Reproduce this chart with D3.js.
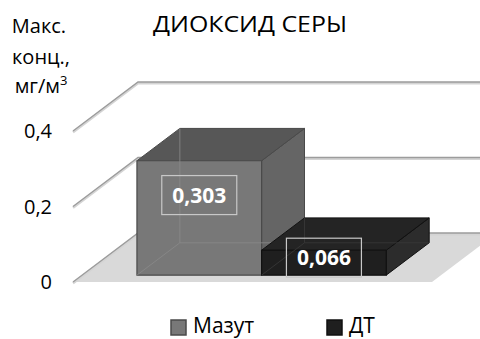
<!DOCTYPE html>
<html>
<head>
<meta charset="utf-8">
<script src="https://cdn.jsdelivr.net/npm/d3@7"></script>
<style>
  body { margin: 0; background: #fff; }
  text { font-family: "Open Sans", "DejaVu Sans", sans-serif; fill: #000; }
</style>
</head>
<body>
<div id="chart"></div>
<script>
// data
let series = ["Мазут", "ДТ"];
let values = [0.303, 0.066];
let labels = ["0,303", "0,066"];
let yTicks = [0, 0.2, 0.4];
let yTickLabels = ["0", "0,2", "0,4"];

let width = 480,
  height = 339;

// oblique 3d: depth 0 = front of floor, 1 = back wall
let depth = { dx: 65, dy: -49 };
let barDepth = [0.14, 0.8];

let faceColors = {
  "Мазут": { front: "#787878", top: "#575757", side: "#656565", edge: "#4a4a4a", hidden: "#8a8a8a" },
  "ДТ": { front: "#1f1f1f", top: "#242424", side: "#2c2c2c", edge: "#111", hidden: "#3a3a3a" },
};

let svg = d3
  .select("#chart")
  .append("svg")
  .attr("width", width)
  .attr("height", height);

let xScale = d3.scaleBand().domain(series).range([73, 432]).paddingOuter(0.44).paddingInner(0);
let yScale = d3.scaleLinear().domain([0, 0.4]).range([282, 131]);

function proj(x, y, d) {
  return [x + depth.dx * d, y + depth.dy * d];
}

function poly(pts) {
  return "M" + pts.map((p) => p.join(",")).join("L") + "Z";
}

// floor
let x0 = xScale.range()[0],
  x1 = xScale.range()[1];
svg
  .append("path")
  .attr("d", poly([proj(x0, yScale(0), 0), proj(x1, yScale(0), 0), proj(x1, yScale(0), 1), proj(x0, yScale(0), 1)]))
  .attr("fill", "#d9d9d9");

// gridlines: side wall diagonal + back wall horizontal
let grid = svg.append("g").attr("class", "grid");
yTicks.forEach((t) => {
  let a = proj(x0, yScale(t), 0),
    b = proj(x0, yScale(t), 1),
    c = proj(x1 + 20, yScale(t), 1);
  let d = "M" + a.join(",") + "L" + b.join(",") + "L" + c.join(",");
  grid.append("path").attr("d", d).attr("transform", "translate(0,1.2)")
    .attr("fill", "none").attr("stroke", "#d4d4d4").attr("stroke-width", 2.5);
  grid.append("path").attr("d", d)
    .attr("fill", "none").attr("stroke", "#9c9c9c").attr("stroke-width", 1.4);
});

// y tick labels
svg
  .selectAll(".ytick")
  .data(yTicks)
  .join("text")
  .attr("class", "ytick")
  .attr("x", 52)
  .attr("y", (d) => yScale(d))
  .attr("dy", "0.35em")
  .attr("text-anchor", "end")
  .style("font-size", "20px")
  .text((d, i) => yTickLabels[i]);

// bars
let bars = svg.append("g").attr("class", "bars");
series.forEach((s, i) => {
  let c = faceColors[s];
  let bx0 = xScale(s),
    bx1 = xScale(s) + xScale.bandwidth(),
    yb = yScale(0),
    yt = yScale(values[i]),
    d0 = barDepth[0],
    d1 = barDepth[1];
  let g = bars.append("g");

  // back face (seen through the front)
  g.append("path")
    .attr("d", poly([proj(bx0, yb, d1), proj(bx1, yb, d1), proj(bx1, yt, d1), proj(bx0, yt, d1)]))
    .attr("fill", c.front);

  // right side
  g.append("path")
    .attr("d", poly([proj(bx1, yb, d0), proj(bx1, yb, d1), proj(bx1, yt, d1), proj(bx1, yt, d0)]))
    .attr("fill", c.side).attr("stroke", c.edge).attr("stroke-width", 1);
  // top
  g.append("path")
    .attr("d", poly([proj(bx0, yt, d0), proj(bx1, yt, d0), proj(bx1, yt, d1), proj(bx0, yt, d1)]))
    .attr("fill", c.top).attr("stroke", c.edge).attr("stroke-width", 1);
  // front
  g.append("path")
    .attr("d", poly([proj(bx0, yb, d0), proj(bx1, yb, d0), proj(bx1, yt, d0), proj(bx0, yt, d0)]))
    .attr("fill", c.front).attr("stroke", c.edge).attr("stroke-width", 1.2);

  // hidden edges seen through
  let hb = proj(bx0, yb, d1);
  let hidden = "M" + proj(bx0, yt, d1).join(",") + "L" + hb.join(",") +
    "L" + proj(bx1, yb, d1).join(",") + "M" + hb.join(",") + "L" + proj(bx0, yb, d0).join(",");
  g.append("path").attr("d", hidden)
    .attr("fill", "none").attr("stroke", c.hidden).attr("stroke-width", 1).attr("opacity", 0.8);
});

// value labels
let lab = svg.append("g").attr("class", "labels");
series.forEach((s, i) => {
  let cx = xScale(s) + xScale.bandwidth() / 2 + depth.dx * barDepth[0];
  let yb = yScale(0) + depth.dy * barDepth[0];
  let cy = yb - 0.7 * (yScale(0) - yScale(values[i]));
  lab.append("rect")
    .attr("x", cx - 37.5).attr("y", cy - 19.5)
    .attr("width", 75).attr("height", 39)
    .attr("fill", "none").attr("stroke", "#c8c8c8").attr("stroke-width", 1.2);
  lab.append("text")
    .attr("x", cx).attr("y", cy)
    .attr("dy", "0.36em")
    .attr("text-anchor", "middle")
    .style("font-size", "21px")
    .style("font-weight", "bold")
    .style("fill", "#fff")
    .text(labels[i]);
});

// title
svg.append("text")
  .attr("x", 250).attr("y", 32)
  .attr("text-anchor", "middle")
  .style("font-size", "22px")
  .attr("textLength", 194)
  .attr("lengthAdjust", "spacingAndGlyphs")
  .text("ДИОКСИД СЕРЫ");

// axis title
let at = svg.append("text").attr("text-anchor", "middle").style("font-size", "20px");
at.append("tspan").attr("x", 39).attr("y", 33).text("Макс.");
at.append("tspan").attr("x", 41).attr("y", 64).text("конц.,");
at.append("tspan").attr("x", 41).attr("y", 93).text("мг/м");
at.append("tspan").attr("dy", -8).style("font-size", "13px").text("3");

// legend
let legend = svg.append("g").attr("class", "legend");
let legendX = [171, 327];
series.forEach((s, i) => {
  let c = faceColors[s];
  legend.append("rect")
    .attr("x", legendX[i]).attr("y", 320)
    .attr("width", 15).attr("height", 15)
    .attr("fill", c.front).attr("stroke", c.edge).attr("stroke-width", 1.5);
  legend.append("text")
    .attr("x", legendX[i] + 22).attr("y", 333)
    .style("font-size", "21px")
    .text(s);
});
</script>
</body>
</html>
